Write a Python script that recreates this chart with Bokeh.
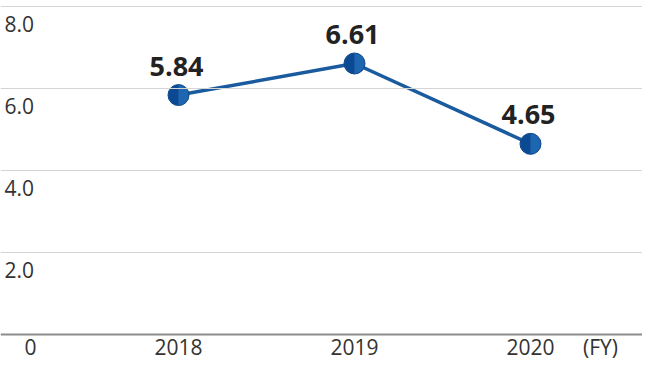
import math
from bokeh.plotting import figure
from bokeh.models import Range1d, Span, ColumnDataSource
from bokeh.core.properties import value
from bokeh.embed import file_html
from bokeh.resources import INLINE

# ---- data ----
years = ["2018", "2019", "2020"]
values = [5.84, 6.61, 4.65]
value_labels = ["5.84", "6.61", "4.65"]
y_ticks = [2, 4, 6, 8]
y_tick_labels = ["2.0", "4.0", "6.0", "8.0"]
zero_label = "0"
unit_label = "(FY)"

FONT = "Open Sans"
W, H = 642, 359
px_per_unit = 41.0
base_px = 334.0            # pixel row of the zero line
y_end = base_px / px_per_unit
y_start = y_end - H / px_per_unit
step = 176.0
x0 = 178.0
x_start = -x0 / step
x_end = (W - x0) / step
label_row = y_end - 346.0 / px_per_unit

p = figure(width=W, height=H, output_backend="svg", toolbar_location=None,
           x_range=Range1d(x_start, x_end), y_range=Range1d(y_start, y_end),
           min_border=0, outline_line_color=None)
p.axis.visible = False
p.xgrid.visible = False
p.ygrid.visible = False
p.background_fill_color = "white"

# gridlines
for t in y_ticks:
    p.add_layout(Span(location=t, dimension="width", line_color="#d4d4d4", line_width=1))
p.add_layout(Span(location=0, dimension="width", line_color="#8c8c8c", line_width=2))

# y tick labels (below each gridline, left aligned)
p.text(x=[x_start] * len(y_ticks), y=y_ticks, text=y_tick_labels,
       text_font=value(FONT), text_font_size="21px", text_color="#333333",
       text_align="left", text_baseline="middle", x_offset=4, y_offset=17)

xs = list(range(len(years)))
p.text(x=xs, y=[label_row] * len(years), text=years, text_font=value(FONT),
       text_font_size="21px", text_color="#333333", text_align="center",
       text_baseline="middle")
p.text(x=[x_start], y=[label_row], text=[zero_label], text_font=value(FONT),
       text_font_size="21px", text_color="#333333", text_align="center",
       text_baseline="middle", x_offset=30)
p.text(x=[xs[-1]], y=[label_row], text=[unit_label], text_font=value(FONT),
       text_font_size="21px", text_color="#333333", text_align="center",
       text_baseline="middle", x_offset=70)

# line
src = ColumnDataSource(dict(x=xs, y=values, lab=value_labels))
p.line("x", "y", source=src, line_color="#1a5a9e", line_width=3.5)
# markers: light full circle + darker left half
p.scatter("x", "y", source=src, marker="circle", size=21, fill_color="#1f66b0",
          line_color="#0d4688", line_width=1)
p.wedge("x", "y", source=src, radius=10, radius_units="screen",
        start_angle=math.pi / 2, end_angle=3 * math.pi / 2,
        fill_color="#0b4a92", line_color=None)

# value labels
p.text("x", "y", text="lab", source=src, text_font=value(FONT), text_font_size="27px",
       text_font_style="bold", text_color="#222222", text_align="center",
       text_baseline="middle", y_offset=-29, x_offset=-2)

open("out.html", "w").write(file_html(p, INLINE))
